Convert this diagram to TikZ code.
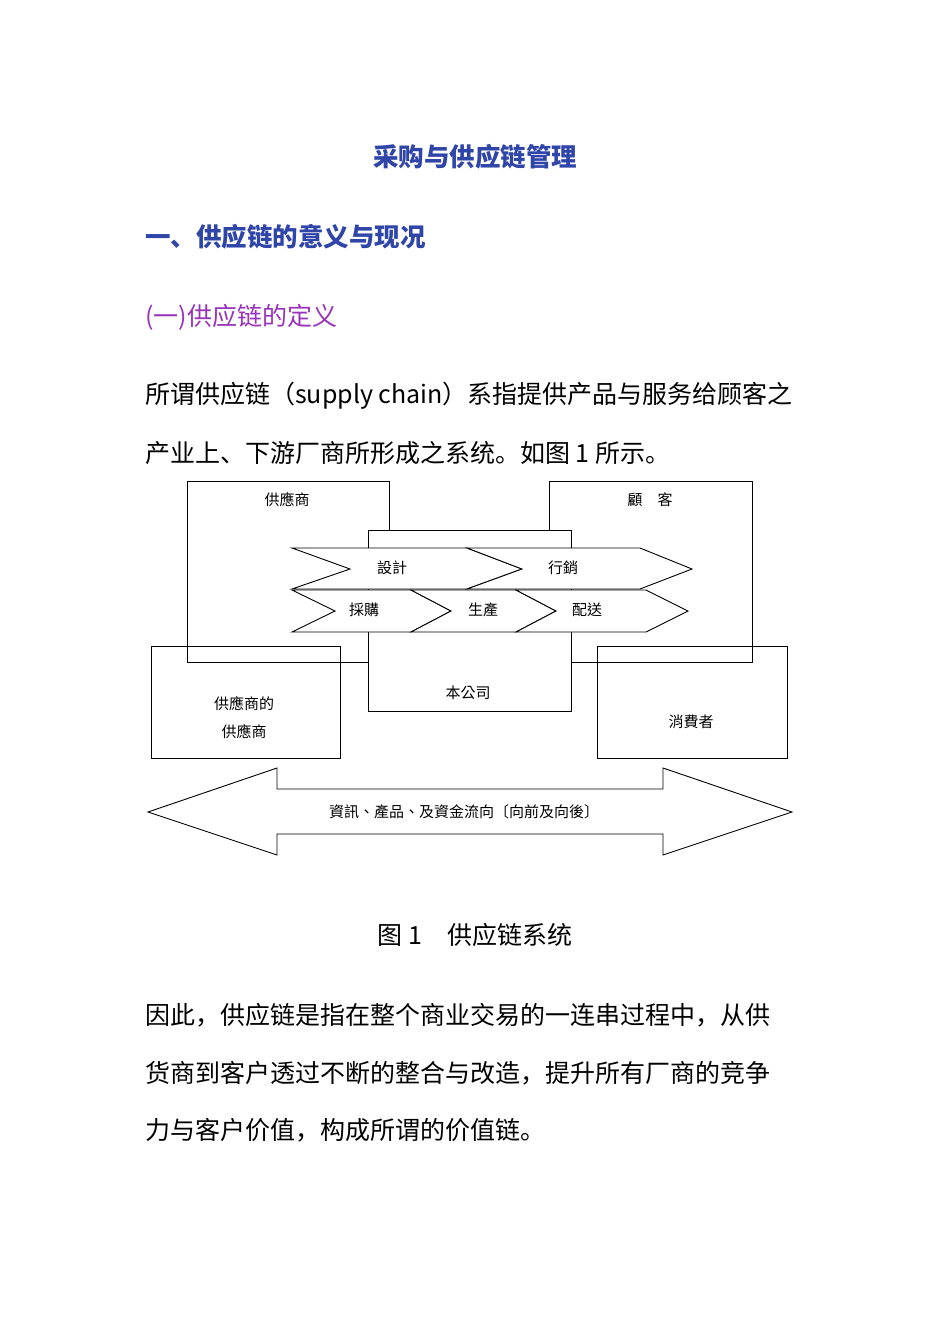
\documentclass[tikz,border=0pt]{standalone}
\usepackage{fontspec}
\setmainfont{Noto Sans CJK SC}
\newfontfamily\cjktc{Noto Sans CJK TC}
\definecolor{ttl}{HTML}{2F45A8}
\definecolor{sub}{HTML}{9933BB}
\tikzset{
  bx/.style={draw,line width=0.9pt},
  lbl/.style={font=\cjktc\fontsize{15}{17}\selectfont,inner sep=0},
  body/.style={anchor=west,font=\fontsize{25}{29}\selectfont,inner sep=0},
}
\begin{document}
\begin{tikzpicture}[x=1pt,y=-1pt]
\useasboundingbox (0,0) rectangle (950,1344);
\node[font=\bfseries\fontsize{25.5}{29}\selectfont,text=ttl,inner sep=0] (t) at (475,157) {采购与供应链管理};
\node[body,font=\bfseries\fontsize{25.5}{29}\selectfont,text=ttl] (h1) at (145,237) {一、供应链的意义与现况};
\node[body,text=sub] (h2) at (145,317) {(一)供应链的定义};
\node[body] (p1) at (145,396) {所谓供应链（supply chain）系指提供产品与服务给顾客之};
\node[body] (p2) at (145,453) {产业上、下游厂商所形成之系统。如图 1 所示。};
% boxes
\draw[bx] (187,481) rectangle (389,662);
\draw[bx] (549,481) rectangle (752,662);
\draw[bx,fill=white] (368,530) rectangle (571,711);
\draw[bx] (151,646) rectangle (340,758);
\draw[bx] (597,646) rectangle (787,758);
% chevrons
\draw[bx,fill=white] (292,548) -- (467,548) -- (522,569) -- (467,589) -- (292,589) -- (350,569) -- cycle;
\draw[bx,fill=white] (467,548) -- (640,548) -- (692,569) -- (640,589) -- (467,589) -- (522,569) -- cycle;
\draw[bx,fill=white] (292,590) -- (411,590) -- (451,611) -- (411,632) -- (292,632) -- (335,611) -- cycle;
\draw[bx,fill=white] (411,590) -- (516,590) -- (556,611) -- (516,632) -- (411,632) -- (451,611) -- cycle;
\draw[bx,fill=white] (516,590) -- (646,590) -- (688,611) -- (646,632) -- (516,632) -- (556,611) -- cycle;
% arrow
\draw[bx] (148,812) -- (277,768) -- (277,789) -- (663,789) -- (663,768) -- (792,812) -- (663,855) -- (663,834) -- (277,834) -- (277,855) -- cycle;
% labels
\node[lbl] (l1) at (287,500) {供應商};
\node[lbl] (l2) at (650,500) {顧\quad 客};
\node[lbl] (l3) at (392,568) {設計};
\node[lbl] (l4) at (563,568) {行銷};
\node[lbl] (l5) at (364,610) {採購};
\node[lbl] (l6) at (483,610) {生產};
\node[lbl] (l7) at (587,610) {配送};
\node[lbl] (l8) at (468,693) {本公司};
\node[lbl,align=center] (l9) at (244,718) {供應商的\\[11pt]供應商};
\node[lbl] (l10) at (691,722) {消費者};
\node[lbl] (l11) at (464,812) {資訊、產品、及資金流向〔向前及向後〕};
\node[inner sep=0,font=\fontsize{25}{29}\selectfont] (cap) at (475,935) {图 1\quad 供应链系统};
\node[body] (p3) at (145,1015) {因此，供应链是指在整个商业交易的一连串过程中，从供};
\node[body] (p4) at (145,1073) {货商到客户透过不断的整合与改造，提升所有厂商的竞争};
\node[body] (p5) at (145,1130) {力与客户价值，构成所谓的价值链。};
\end{tikzpicture}
\end{document}
